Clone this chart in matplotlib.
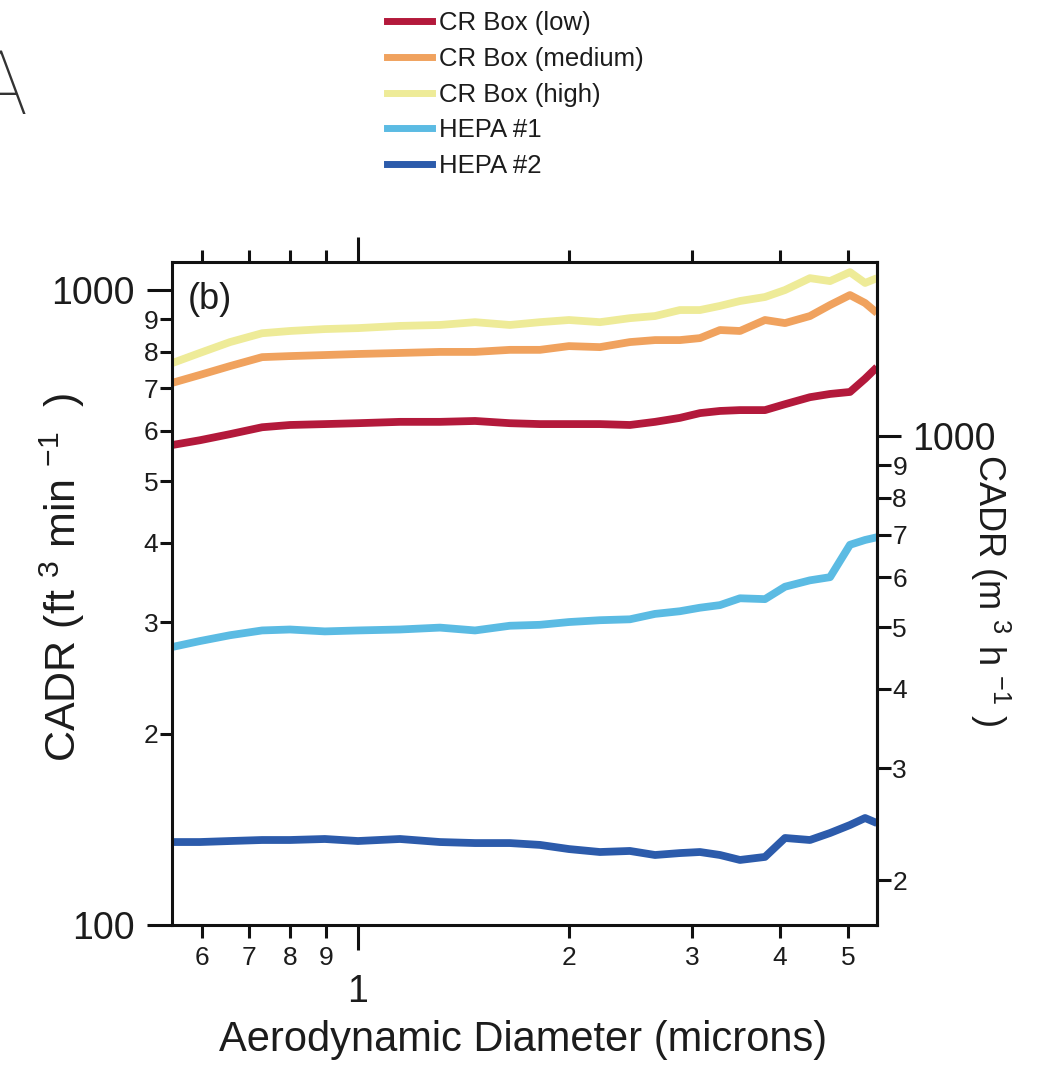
import matplotlib
matplotlib.use("Agg")
import matplotlib.pyplot as plt
from matplotlib.lines import Line2D
from matplotlib.ticker import FixedLocator, FixedFormatter

plt.rcParams["font.family"] = ["Liberation Sans", "DejaVu Sans"]
plt.rcParams["mathtext.fontset"] = "custom"
plt.rcParams["mathtext.rm"] = "Liberation Sans"
plt.rcParams["mathtext.it"] = "Liberation Sans:italic"
plt.rcParams["mathtext.bf"] = "Liberation Sans:bold"

# Aerodynamic diameter (microns)
diameter = [0.543, 0.595, 0.657, 0.730, 0.800, 0.897, 1.000, 1.148, 1.309,
            1.469, 1.647, 1.818, 2.000, 2.214, 2.443, 2.653, 2.879, 3.075,
            3.284, 3.507, 3.807, 4.066, 4.413, 4.714, 5.033, 5.289, 5.500]

# Clean air delivery rate (ft^3/min)
cr_box_low = [570, 580, 593, 608, 613, 615, 617, 620, 620, 622, 617, 615, 615,
              615, 613, 620, 629, 640, 645, 647, 647, 661, 678, 686, 691, 725, 756]
cr_box_medium = [714, 735, 759, 784, 787, 790, 793, 796, 799, 799, 805, 805, 816,
                 813, 828, 834, 834, 840, 865, 862, 897, 887, 910, 947, 982, 954, 920]
cr_box_high = [767, 796, 828, 855, 862, 868, 871, 878, 881, 890, 881, 890, 897,
               890, 903, 910, 930, 930, 944, 961, 975, 1000, 1044, 1033, 1067, 1026, 1044]
hepa_1 = [274, 280, 286, 291, 292, 290, 291, 292, 294, 291, 296, 297, 300,
          302, 303, 309, 312, 316, 319, 327, 326, 341, 349, 353, 397, 404, 408]
hepa_2 = [135.1, 135.1, 135.6, 136.1, 136.1, 136.6, 135.6, 136.6, 135.1, 134.6,
          134.6, 133.7, 131.7, 130.3, 130.8, 128.9, 129.8, 130.3, 128.9, 126.6,
          128.0, 137.1, 136.1, 139.6, 143.7, 147.4, 144.7]

series_labels = ["CR Box (low)", "CR Box (medium)", "CR Box (high)", "HEPA #1", "HEPA #2"]
series_colors = ["#b3193b", "#f0a25e", "#eeeb98", "#5bbbe3", "#2c5bab"]

x_major = [1]
x_major_labels = ["1"]
x_minor = [0.6, 0.7, 0.8, 0.9, 2, 3, 4, 5]
x_minor_labels = ["6", "7", "8", "9", "2", "3", "4", "5"]
y_major = [100, 1000]
y_major_labels = ["100", "1000"]
y_minor = [200, 300, 400, 500, 600, 700, 800, 900]
y_minor_labels = ["2", "3", "4", "5", "6", "7", "8", "9"]
m3h_major = [1000]
m3h_major_labels = ["1000"]
m3h_minor = [200, 300, 400, 500, 600, 700, 800, 900]
m3h_minor_labels = ["2", "3", "4", "5", "6", "7", "8", "9"]

CFM_TO_M3H = 1.699
INK = "#1c1c1c"

W, H = 1051, 1068
fig = plt.figure(figsize=(W / 100, H / 100), dpi=100)
ax = fig.add_axes([172 / W, 143 / H, 705 / W, 663 / H])

all_series = [cr_box_low, cr_box_medium, cr_box_high, hepa_1, hepa_2]
for vals, col in zip(all_series, series_colors):
    ax.plot(diameter, vals, color=col, lw=5.6, solid_joinstyle="round",
            solid_capstyle="butt")

ax.set_xscale("log")
ax.set_yscale("log")
ax.set_xlim(0.543, 5.5)
ax.set_ylim(100, 1107)

ax.xaxis.set_major_locator(FixedLocator(x_major))
ax.xaxis.set_major_formatter(FixedFormatter(x_major_labels))
ax.xaxis.set_minor_locator(FixedLocator(x_minor))
ax.xaxis.set_minor_formatter(FixedFormatter(x_minor_labels))
ax.yaxis.set_major_locator(FixedLocator(y_major))
ax.yaxis.set_major_formatter(FixedFormatter(y_major_labels))
ax.yaxis.set_minor_locator(FixedLocator(y_minor))
ax.yaxis.set_minor_formatter(FixedFormatter(y_minor_labels))

for sp in ax.spines.values():
    sp.set_linewidth(2.2)
    sp.set_color("#111111")

ax.tick_params(which="both", direction="out", width=2.2, color="#111111",
               labelcolor=INK, top=True, right=False, labeltop=False)
ax.tick_params(axis="x", which="major", length=18, labelsize=27, pad=17)
ax.tick_params(axis="x", which="minor", length=9, labelsize=19, pad=6)
ax.tick_params(axis="y", which="major", length=18, labelsize=27, pad=9)
ax.tick_params(axis="y", which="minor", length=9, labelsize=19, pad=1)

# Secondary scale in m^3/h
sec = ax.secondary_yaxis("right", functions=(lambda v: v * CFM_TO_M3H,
                                             lambda v: v / CFM_TO_M3H))
sec.yaxis.set_major_locator(FixedLocator(m3h_major))
sec.yaxis.set_major_formatter(FixedFormatter(m3h_major_labels))
sec.yaxis.set_minor_locator(FixedLocator(m3h_minor))
sec.yaxis.set_minor_formatter(FixedFormatter(m3h_minor_labels))
sec.spines["right"].set_linewidth(2.2)
sec.spines["right"].set_color("#111111")
sec.tick_params(which="both", direction="out", width=2.2, color="#111111",
                labelcolor=INK)
sec.tick_params(which="major", length=17, labelsize=27, pad=8)
sec.tick_params(which="minor", length=10, labelsize=19, pad=1)

ax.text(0.022, 0.943, "(b)", transform=ax.transAxes, ha="left", va="center",
        fontsize=26, color=INK)

fig.text(62 / W, 1 - 578 / H, r"CADR (ft $^{3}$ min $^{-1}$  )", rotation=90,
         ha="center", va="center", fontsize=31, color=INK)
fig.text(990 / W, 1 - 590 / H, r"CADR (m $^{3}$ h $^{-1}$ )", rotation=-90,
         ha="center", va="center", fontsize=26, color=INK)
fig.text(523 / W, 1 - 1040 / H, "Aerodynamic Diameter (microns)",
         ha="center", va="center", fontsize=30, color=INK)

fig.text(0, 1 - 89 / H, "A", ha="center", va="center", fontsize=64,
         family=["Roboto", "DejaVu Sans"], fontweight="light", color="#333333")

handles = [Line2D([], [], color=c, lw=5) for c in series_colors]
fig.legend(handles, series_labels, loc="upper left",
           bbox_to_anchor=(387 / W, 1 - 11 / H), frameon=False, fontsize=18.5,
           handlelength=1.75, handletextpad=0.27, labelspacing=0.46,
           borderpad=0, borderaxespad=0, labelcolor=INK)

fig.savefig("out.png", dpi=100)
